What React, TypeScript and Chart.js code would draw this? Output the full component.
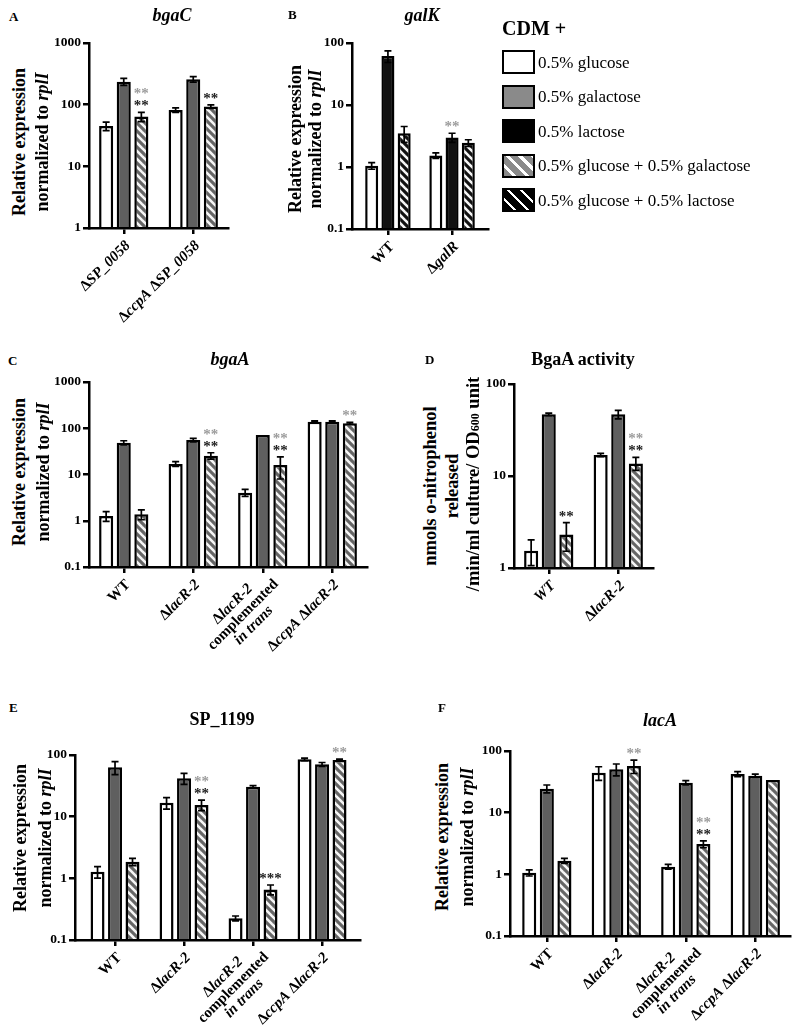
import React, { useEffect, useRef } from "react";
import { Chart, registerables } from "chart.js";

Chart.register(...registerables);

const SERIF = '"Liberation Serif", "Times New Roman", Times, serif';

// ---------- Panel A : bgaC ----------
const catsA = ["Δ|SP_0058|", "Δ|ccpA| Δ|SP_0058|"];
const yTicksA = [1, 10, 100, 1000];
const glucoseA = [45, 82];
const glucoseErrA = [7, 7];
const galactoseA = [236, 258];
const galactoseErrA = [30, 26];
const glcGalA = [64, 93];
const glcGalErrA = [11, 6];
const starsBlackA = ["**", "**"];
const starsGreyA = ["**", ""];

// ---------- Panel B : galK ----------
const catsB = ["WT", "Δ|galR|"];
const yTicksB = [0.1, 1, 10, 100];
const glucoseB = [1.05, 1.53];
const glucoseErrB = [0.13, 0.16];
const lactoseB = [61.5, 3.0];
const lactoseErrB = [13, 0.5];
const glcLacB = [3.5, 2.45];
const glcLacErrB = [1.0, 0.3];
const starsBlackB = ["", ""];
const starsGreyB = ["", "**"];

// ---------- Panel C : bgaA ----------
const catsC = ["WT", "Δ|lacR-2|", "Δ|lacR-2|\ncomplemented\n|in trans|", "Δ|ccpA| Δ|lacR-2|"];
const yTicksC = [0.1, 1, 10, 100, 1000];
const glucoseC = [1.27, 16.9, 4.05, 139];
const glucoseErrC = [0.3, 2, 0.7, 6];
const galactoseC = [48.7, 55.7, 71.5, 138];
const galactoseErrC = [5, 5, 0, 6];
const glcGalC = [1.38, 25.5, 16, 128];
const glcGalErrC = [0.33, 4, 8, 6];
const starsBlackC = ["", "**", "**", ""];
const starsGreyC = ["", "**", "**", "**"];

// ---------- Panel D : BgaA activity ----------
const catsD = ["|WT|", "Δ|lacR-2|"];
const yTicksD = [1, 10, 100];
const glucoseD = [1.54, 16.9];
const glucoseErrD = [0.48, 0.7];
const galactoseD = [46.8, 46.8];
const galactoseErrD = [1.5, 5];
const glcGalD = [2.32, 13.7];
const glcGalErrD = [0.8, 2.2];
const starsBlackD = ["**", "**"];
const starsGreyD = ["", "**"];

// ---------- Panel E : SP_1199 ----------
const catsE = ["WT", "Δ|lacR-2|", "Δ|lacR-2|\ncomplemented\n|in trans|", "Δ|ccpA| Δ|lacR-2|"];
const yTicksE = [0.1, 1, 10, 100];
const glucoseE = [1.28, 16.8, 0.225, 85];
const glucoseErrE = [0.27, 3.5, 0.02, 4];
const galactoseE = [63, 41.9, 30.6, 70.6];
const galactoseErrE = [15, 8.5, 1.2, 5];
const glcGalE = [1.86, 15.5, 0.66, 83];
const glcGalErrE = [0.25, 3, 0.12, 3];
const starsBlackE = ["", "**", "***", ""];
const starsGreyE = ["", "**", "", "**"];

// ---------- Panel F : lacA ----------
const catsF = ["WT", "Δ|lacR-2|", "Δ|lacR-2|\ncomplemented\n|in trans|", "Δ|ccpA| Δ|lacR-2|"];
const yTicksF = [0.1, 1, 10, 100];
const glucoseF = [1.06, 44.5, 1.33, 42.4];
const glucoseErrF = [0.12, 11, 0.12, 4];
const galactoseF = [24.5, 50.5, 30.6, 39.8];
const galactoseErrF = [3.6, 11, 2.5, 2.5];
const glcGalF = [1.66, 57.2, 3.1, 33.9];
const glcGalErrF = [0.16, 14, 0.4, 0];
const starsBlackF = ["", "", "**", ""];
const starsGreyF = ["", "**", "**", ""];

// ---------- Legend ----------
const legendLabels = [
  "0.5% glucose",
  "0.5% galactose",
  "0.5% lactose",
  "0.5% glucose + 0.5% galactose",
  "0.5% glucose + 0.5% lactose",
];

type Kind = "white" | "grey" | "black" | "greyHatch" | "blackHatch";
type Series = { kind: Kind; values: number[]; errs: number[] };
type PanelSpec = {
  cats: string[];
  yTicks: number[];
  series: Series[];
  starSeries: number;
  starsBlack: string[];
  starsGrey: string[];
  plot: { left: number; top: number; right: number; bottom: number };
  xMin: number;
  xMax: number;
};

const specA: PanelSpec = {
  cats: catsA, yTicks: yTicksA,
  series: [
    { kind: "white", values: glucoseA, errs: glucoseErrA },
    { kind: "grey", values: galactoseA, errs: galactoseErrA },
    { kind: "greyHatch", values: glcGalA, errs: glcGalErrA },
  ],
  starSeries: 2, starsBlack: starsBlackA, starsGrey: starsGreyA,
  plot: { left: 89, top: 43, right: 228, bottom: 228 }, xMin: -0.5, xMax: 1.5,
};
const specB: PanelSpec = {
  cats: catsB, yTicks: yTicksB,
  series: [
    { kind: "white", values: glucoseB, errs: glucoseErrB },
    { kind: "black", values: lactoseB, errs: lactoseErrB },
    { kind: "blackHatch", values: glcLacB, errs: glcLacErrB },
  ],
  starSeries: 1, starsBlack: starsBlackB, starsGrey: starsGreyB,
  plot: { left: 352, top: 43, right: 488, bottom: 229 }, xMin: -0.56, xMax: 1.56,
};
const specC: PanelSpec = {
  cats: catsC, yTicks: yTicksC,
  series: [
    { kind: "white", values: glucoseC, errs: glucoseErrC },
    { kind: "grey", values: galactoseC, errs: galactoseErrC },
    { kind: "greyHatch", values: glcGalC, errs: glcGalErrC },
  ],
  starSeries: 2, starsBlack: starsBlackC, starsGrey: starsGreyC,
  plot: { left: 89, top: 382, right: 367, bottom: 567 }, xMin: -0.5, xMax: 3.5,
};
const specD: PanelSpec = {
  cats: catsD, yTicks: yTicksD,
  series: [
    { kind: "white", values: glucoseD, errs: glucoseErrD },
    { kind: "grey", values: galactoseD, errs: galactoseErrD },
    { kind: "greyHatch", values: glcGalD, errs: glcGalErrD },
  ],
  starSeries: 2, starsBlack: starsBlackD, starsGrey: starsGreyD,
  plot: { left: 514, top: 384, right: 653, bottom: 568 }, xMin: -0.5, xMax: 1.5,
};
const specE: PanelSpec = {
  cats: catsE, yTicks: yTicksE,
  series: [
    { kind: "white", values: glucoseE, errs: glucoseErrE },
    { kind: "grey", values: galactoseE, errs: galactoseErrE },
    { kind: "greyHatch", values: glcGalE, errs: glcGalErrE },
  ],
  starSeries: 2, starsBlack: starsBlackE, starsGrey: starsGreyE,
  plot: { left: 75, top: 755, right: 360, bottom: 940 }, xMin: -0.58, xMax: 3.55,
};
const specF: PanelSpec = {
  cats: catsF, yTicks: yTicksF,
  series: [
    { kind: "white", values: glucoseF, errs: glucoseErrF },
    { kind: "grey", values: galactoseF, errs: galactoseErrF },
    { kind: "greyHatch", values: glcGalF, errs: glcGalErrF },
  ],
  starSeries: 2, starsBlack: starsBlackF, starsGrey: starsGreyF,
  plot: { left: 510, top: 751, right: 790, bottom: 936 }, xMin: -0.53, xMax: 3.5,
};

const GREY = "#5f5f5f";

function makeHatch(base: string, stripe: string) {
  const s = 8;
  const c = document.createElement("canvas");
  c.width = s;
  c.height = s;
  const g = c.getContext("2d")!;
  g.fillStyle = base;
  g.fillRect(0, 0, s, s);
  g.strokeStyle = stripe;
  g.lineWidth = 2.6;
  for (const off of [-s, 0, s]) {
    g.beginPath();
    g.moveTo(off - 2, -2);
    g.lineTo(off + s + 2, s + 2);
    g.stroke();
  }
  return g.createPattern(c, "repeat")!;
}

function fillFor(kind: Kind): any {
  switch (kind) {
    case "white": return "#ffffff";
    case "grey": return GREY;
    case "black": return "#111111";
    case "greyHatch": return makeHatch("#666666", "#f6f6f6");
    case "blackHatch": return makeHatch("#111111", "#f6f6f6");
  }
}

function segs(line: string) {
  return line.split("|").map((t, k) => ({ t, it: k % 2 === 1 })).filter((s) => s.t.length > 0);
}
const labelFont = (it: boolean) => `${it ? "italic " : ""}bold 15px ${SERIF}`;

const PAD_L = 50, PAD_T = 30, PAD_R = 20, PAD_B = 104;

function Panel({ spec }: { spec: PanelSpec }) {
  const ref = useRef<HTMLCanvasElement>(null);
  const W = spec.plot.right - spec.plot.left + PAD_L + PAD_R;
  const H = spec.plot.bottom - spec.plot.top + PAD_T + PAD_B;

  useEffect(() => {
    if (!ref.current) return;
    const overlay = {
      id: "overlay",
      afterDatasetsDraw(chart: any) {
        const ctx = chart.ctx;
        const ys = chart.scales.y;
        // error bars
        spec.series.forEach((s, di) => {
          const meta = chart.getDatasetMeta(di);
          meta.data.forEach((bar: any, j: number) => {
            const e = s.errs[j];
            if (!e) return;
            const v = s.values[j];
            const top = ys.getPixelForValue(v + e);
            const bot = ys.getPixelForValue(Math.max(v - e, ys.min));
            ctx.save();
            ctx.strokeStyle = "#000";
            ctx.lineWidth = 1.7;
            ctx.beginPath();
            ctx.moveTo(bar.x, bot);
            ctx.lineTo(bar.x, top);
            ctx.moveTo(bar.x - 3.5, top);
            ctx.lineTo(bar.x + 3.5, top);
            ctx.moveTo(bar.x - 3.5, bot);
            ctx.lineTo(bar.x + 3.5, bot);
            ctx.stroke();
            ctx.restore();
          });
        });
        // significance asterisks
        const ss = spec.series[spec.starSeries];
        const meta = chart.getDatasetMeta(spec.starSeries);
        meta.data.forEach((bar: any, j: number) => {
          const top = ys.getPixelForValue(ss.values[j] + (ss.errs[j] || 0));
          let cy = top - 9;
          const rows: [string, string][] = [
            [spec.starsBlack[j], "#1c1c1c"],
            [spec.starsGrey[j], "#9c9c9c"],
          ];
          for (const [t, col] of rows) {
            if (!t) continue;
            ctx.save();
            ctx.font = `bold 15px ${SERIF}`;
            ctx.fillStyle = col;
            ctx.textAlign = "center";
            ctx.textBaseline = "alphabetic";
            const m = ctx.measureText(t);
            ctx.fillText(t, bar.x, cy + (m.actualBoundingBoxAscent - m.actualBoundingBoxDescent) / 2);
            ctx.restore();
            cy -= 12;
          }
        });
      },
      afterDraw(chart: any) {
        const ctx = chart.ctx;
        const xs = chart.scales.x;
        const bottom = chart.chartArea.bottom;
        spec.cats.forEach((label, i) => {
          const px = xs.getPixelForValue(i);
          const lines = label.split("\n");
          const n = lines.length;
          const lh = 15;
          const uEnd = -8 + 3.5 * (n - 1);
          const vMid = 14 + 3 * (n - 1);
          ctx.save();
          ctx.translate(px, bottom);
          ctx.rotate(-Math.PI / 4);
          ctx.fillStyle = "#000";
          ctx.textBaseline = "middle";
          ctx.textAlign = "left";
          const widths = lines.map((l) =>
            segs(l).reduce((acc, sg) => {
              ctx.font = labelFont(sg.it);
              return acc + ctx.measureText(sg.t).width;
            }, 0)
          );
          const maxW = Math.max(...widths);
          lines.forEach((l, k) => {
            let x = uEnd - maxW + (maxW - widths[k]) / 2;
            const y = vMid + (k - (n - 1) / 2) * lh;
            for (const sg of segs(l)) {
              ctx.font = labelFont(sg.it);
              ctx.fillText(sg.t, x, y);
              x += ctx.measureText(sg.t).width;
            }
          });
          ctx.restore();
        });
      },
    };

    const chart = new Chart(ref.current, {
      type: "bar",
      data: {
        datasets: spec.series.map((s) => ({
          data: s.values.map((v, i) => ({ x: i, y: v })),
          backgroundColor: fillFor(s.kind),
          borderColor: "#000",
          borderWidth: 2.5,
          borderSkipped: "start",
          categoryPercentage: 0.76,
          barPercentage: 0.8,
        })) as any,
      },
      options: {
        responsive: false,
        animation: false,
        devicePixelRatio: 1,
        layout: { padding: { top: PAD_T, right: PAD_R, left: 0, bottom: 0 } },
        plugins: { legend: { display: false }, tooltip: { enabled: false } },
        scales: {
          x: {
            type: "linear",
            min: spec.xMin,
            max: spec.xMax,
            bounds: "data",
            offset: false,
            grid: { display: true, drawOnChartArea: false, drawTicks: true, tickLength: 6, color: "#000", lineWidth: 2.5, offset: false },
            border: { display: true, color: "#000", width: 2.5, z: 1 },
            ticks: { display: false },
            afterBuildTicks: (s: any) => {
              s.ticks = spec.cats.map((_, i) => ({ value: i }));
            },
            afterFit: (s: any) => {
              s.height = PAD_B;
            },
          },
          y: {
            type: "logarithmic",
            min: spec.yTicks[0],
            max: spec.yTicks[spec.yTicks.length - 1],
            grid: { display: true, drawOnChartArea: false, drawTicks: true, tickLength: 6, color: "#000", lineWidth: 2.5 },
            border: { display: true, color: "#000", width: 2.5, z: 1 },
            ticks: {
              color: "#000",
              padding: 2,
              font: { family: SERIF, weight: "bold", size: 13.5 },
              callback: (v: any) => String(v),
            },
            afterBuildTicks: (s: any) => {
              s.ticks = spec.yTicks.map((v) => ({ value: v }));
            },
            afterFit: (s: any) => {
              s.width = PAD_L;
            },
          },
        } as any,
      },
      plugins: [overlay],
    } as any);
    return () => chart.destroy();
  }, [spec]);

  return (
    <canvas
      ref={ref}
      width={W}
      height={H}
      style={{ position: "absolute", left: spec.plot.left - PAD_L, top: spec.plot.top - PAD_T, width: W, height: H }}
    />
  );
}

// text placed by baseline
function T(props: {
  x: number; y: number; size: number; bold?: boolean; italic?: boolean;
  center?: boolean; children: React.ReactNode;
}) {
  const { x, y, size, bold, italic, center, children } = props;
  return (
    <div
      style={{
        position: "absolute",
        left: x,
        top: y - 0.8375 * size,
        fontSize: size,
        lineHeight: `${size}px`,
        fontWeight: bold ? "bold" : "normal",
        fontStyle: italic ? "italic" : "normal",
        whiteSpace: "nowrap",
        transform: center ? "translateX(-50%)" : undefined,
      }}
    >
      {children}
    </div>
  );
}

function VLabel({ x, y, size, children }: { x: number; y: number; size: number; children: React.ReactNode }) {
  return (
    <div
      style={{
        position: "absolute",
        left: x,
        top: y,
        fontSize: size,
        fontWeight: "bold",
        lineHeight: 1,
        whiteSpace: "nowrap",
        transform: "translate(-50%, -50%) rotate(-90deg)",
      }}
    >
      {children}
    </div>
  );
}

function RelExpr({ x1, x2, y }: { x1: number; x2: number; y: number }) {
  return (
    <>
      <VLabel x={x1} y={y} size={18}>Relative expression</VLabel>
      <VLabel x={x2} y={y} size={18}>
        normalized to <i>rplI</i>
      </VLabel>
    </>
  );
}

const legendFills = [
  { background: "#ffffff" },
  { background: "#8a8a8a" },
  { background: "#000000" },
  { background: "repeating-linear-gradient(45deg, #8a8a8a 0px, #8a8a8a 6px, #ffffff 6px, #ffffff 9px)" },
  { background: "repeating-linear-gradient(45deg, #000000 0px, #000000 7px, #ffffff 7px, #ffffff 9px)" },
];

export default function App() {
  return (
    <div
      style={{
        position: "absolute",
        left: 0,
        top: 0,
        width: 800,
        height: 1027,
        overflow: "hidden",
        background: "#fff",
        fontFamily: SERIF,
        color: "#000",
      }}
    >
      <Panel spec={specA} />
      <Panel spec={specB} />
      <Panel spec={specC} />
      <Panel spec={specD} />
      <Panel spec={specE} />
      <Panel spec={specF} />

      {/* Panel letters and titles */}
      <T x={9} y={21} size={13} bold>A</T>
      <T x={172} y={21} size={18} bold italic center>bgaC</T>
      <T x={288} y={19} size={13} bold>B</T>
      <T x={422} y={21} size={18} bold italic center>galK</T>
      <T x={8} y={365} size={13} bold>C</T>
      <T x={230} y={365} size={18} bold italic center>bgaA</T>
      <T x={425} y={364} size={13} bold>D</T>
      <T x={583} y={365} size={18} bold center>BgaA activity</T>
      <T x={9} y={712} size={13} bold>E</T>
      <T x={222} y={725} size={18} bold center>SP_1199</T>
      <T x={438} y={712} size={13} bold>F</T>
      <T x={660} y={726} size={18} bold italic center>lacA</T>

      {/* Axis titles */}
      <RelExpr x1={19} x2={42} y={142} />
      <RelExpr x1={295} x2={315} y={139} />
      <RelExpr x1={19} x2={43} y={472} />
      <RelExpr x1={19.5} x2={45} y={838} />
      <RelExpr x1={441.5} x2={466.5} y={837} />
      <VLabel x={430} y={486} size={18.5}>nmols o-nitrophenol</VLabel>
      <VLabel x={452} y={486} size={18.5}>released</VLabel>
      <VLabel x={473} y={484} size={18.5}>
        /min/ml culture/ OD<span style={{ fontSize: 12 }}>600</span> unit
      </VLabel>

      {/* Legend */}
      <T x={502} y={35} size={20} bold>CDM +</T>
      {legendLabels.map((lab, k) => {
        const cy = 62 + k * 34.5;
        return (
          <React.Fragment key={lab}>
            <div
              style={{
                position: "absolute",
                left: 502,
                top: cy - 12,
                width: 33,
                height: 24,
                boxSizing: "border-box",
                border: "2.5px solid #000",
                ...legendFills[k],
              }}
            />
            <T x={538} y={cy + 6} size={17}>{lab}</T>
          </React.Fragment>
        );
      })}
    </div>
  );
}
